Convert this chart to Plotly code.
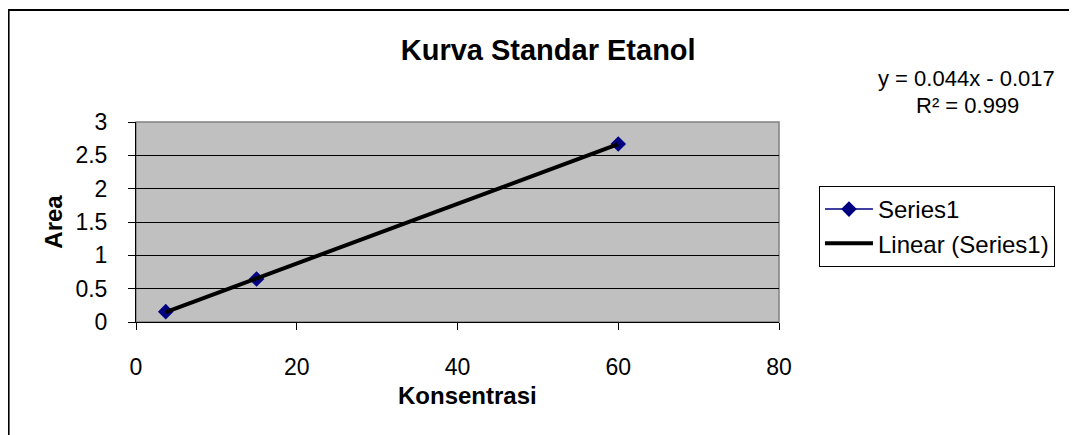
import numpy as np
import plotly.graph_objects as go

konsentrasi = [3.7, 15, 60]
area = [0.155, 0.645, 2.67]

slope, intercept = np.polyfit(konsentrasi, area, 1)
trend_x = [min(konsentrasi), max(konsentrasi)]
trend_y = [slope * v + intercept for v in trend_x]

OFF = 8  # default page body margin
W, H = 1077 - OFF, 435 - OFF
# plot area in screenshot coords
X0, X1, Y0, Y1 = 135.5, 779, 122, 322
L, T = X0 - OFF, Y0 - OFF
R = W - (X1 - OFF)
B = H - (Y1 - OFF)
pw, ph = X1 - X0, Y1 - Y0

def px(x):
    return (x - X0) / pw

def py(y):
    return (Y1 - y) / ph

font = "Liberation Sans, Arial, sans-serif"

fig = go.Figure()
fig.add_trace(go.Scatter(
    x=konsentrasi, y=area, mode="lines+markers", name="Series1",
    line=dict(color="#000080", width=1.5),
    marker=dict(symbol="diamond", size=12, color="#000080"),
))
fig.add_trace(go.Scatter(
    x=trend_x, y=trend_y, mode="lines", name="Linear (Series1)",
    line=dict(color="#000000", width=4),
))

fig.update_layout(
    width=W, height=H,
    margin=dict(l=L, r=R, t=T, b=B, autoexpand=False),
    paper_bgcolor="white", plot_bgcolor="#C0C0C0",
    font=dict(family=font, size=23, color="black"),
    title=dict(text="<b>Kurva Standar Etanol</b>", xref="paper", x=px(548),
               xanchor="center", yref="container", y=1 - (50 - OFF) / H,
               yanchor="middle", font=dict(size=29)),
    showlegend=True,
    legend=dict(x=px(819), y=py(186), xanchor="left", yanchor="top",
                bgcolor="white", bordercolor="black", borderwidth=1,
                font=dict(size=24), tracegroupgap=0, itemwidth=48),
    xaxis=dict(range=[0, 80], dtick=20, showgrid=False, zeroline=False,
               showline=True, linecolor="black", linewidth=1,
               ticks="outside", ticklen=7, tickcolor="black",
               ticklabelstandoff=17),
    yaxis=dict(range=[0, 3], dtick=0.5, showgrid=True, gridcolor="black",
               gridwidth=1, zeroline=False,
               showline=True, linecolor="black", linewidth=1,
               ticks="outside", ticklen=7, tickcolor="black",
               ticklabelstandoff=16,
               title=dict(text="<b>Area</b>", standoff=6,
                          font=dict(size=24))),
    shapes=[
        dict(type="rect", xref="paper", yref="paper", x0=0, x1=1, y0=0, y1=1,
             line=dict(color="#808080", width=1.5), layer="below"),
        dict(type="rect", xref="paper", yref="paper",
             x0=px(8), x1=px(1072), y0=py(10), y1=py(450),
             line=dict(color="black", width=2)),
    ],
    annotations=[
        dict(text="<b>Konsentrasi</b>", xref="paper", yref="paper",
             x=px(467), y=py(395), xanchor="center", yanchor="middle",
             showarrow=False, font=dict(size=24)),
        dict(text="y = 0.044x - 0.017", xref="paper", yref="paper",
             x=px(967), y=py(79), xanchor="center", yanchor="middle",
             showarrow=False, font=dict(size=22)),
        dict(text="R² = 0.999", xref="paper", yref="paper",
             x=px(968), y=py(106), xanchor="center", yanchor="middle",
             showarrow=False, font=dict(size=22)),
    ],
)

fig.write_html("out.html")
